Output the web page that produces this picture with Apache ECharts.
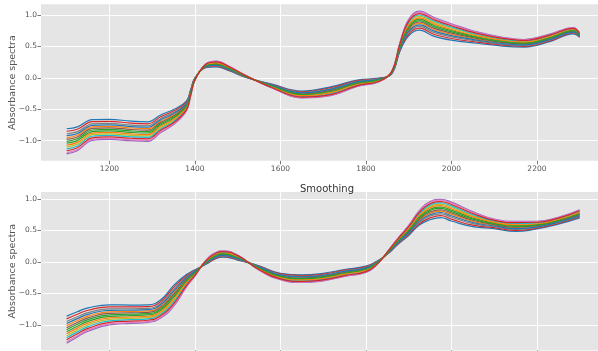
<!DOCTYPE html>
<html>
<head>
<meta charset="utf-8">
<script src="https://cdn.jsdelivr.net/npm/echarts@6/dist/echarts.min.js"></script>
<style>
  html, body { margin: 0; padding: 0; background: #ffffff; }
  #chart { width: 598px; height: 351px; }
</style>
</head>
<body>
<div id="chart"></div>
<script>
// Wavelength grids (nm)
const wavelengthsRaw = [1100, 1125, 1160, 1200, 1250, 1290, 1320, 1350, 1380, 1390, 1400, 1425, 1450, 1480, 1520, 1580, 1650, 1720, 1780, 1830, 1860, 1880, 1900, 1925, 1960, 2000, 2060, 2120, 2170, 2230, 2285, 2300];
const wavelengthsSmooth = [1100, 1125, 1150, 1200, 1250, 1290, 1320, 1350, 1380, 1400, 1425, 1450, 1465, 1500, 1550, 1600, 1650, 1700, 1750, 1800, 1825, 1850, 1875, 1900, 1925, 1950, 1975, 2000, 2050, 2100, 2150, 2200, 2250, 2300];

// Raw absorbance spectra, one array per sample
const raw01 = [-0.81, -0.78, -0.665, -0.66, -0.69, -0.70, -0.59, -0.505, -0.37, -0.19, 0.00, 0.16, 0.175, 0.115, 0.005, -0.10, -0.21, -0.14, -0.035, -0.005, 0.06, 0.43, 0.67, 0.76, 0.66, 0.60, 0.55, 0.505, 0.49, 0.575, 0.70, 0.645];
const raw02 = [-0.95, -0.913, -0.78, -0.772, -0.798, -0.808, -0.688, -0.589, -0.426, -0.225, -0.014, 0.181, 0.206, 0.14, 0.016, -0.121, -0.248, -0.189, -0.07, -0.026, 0.074, 0.479, 0.761, 0.865, 0.765, 0.691, 0.613, 0.554, 0.532, 0.617, 0.735, 0.67];
const raw03 = [-1.04, -0.999, -0.855, -0.844, -0.868, -0.878, -0.751, -0.643, -0.462, -0.248, -0.023, 0.195, 0.227, 0.155, 0.022, -0.135, -0.273, -0.221, -0.093, -0.04, 0.083, 0.511, 0.82, 0.933, 0.833, 0.75, 0.654, 0.586, 0.559, 0.644, 0.758, 0.685];
const raw04 = [-0.85, -0.818, -0.698, -0.692, -0.721, -0.731, -0.618, -0.529, -0.386, -0.20, -0.004, 0.166, 0.184, 0.122, 0.008, -0.106, -0.221, -0.154, -0.045, -0.011, 0.064, 0.444, 0.696, 0.79, 0.69, 0.626, 0.568, 0.519, 0.502, 0.587, 0.71, 0.652];
const raw05 = [-1.21, -1.16, -0.995, -0.98, -1.00, -1.01, -0.87, -0.745, -0.53, -0.29, -0.04, 0.22, 0.265, 0.185, 0.035, -0.16, -0.32, -0.28, -0.135, -0.065, 0.10, 0.57, 0.93, 1.06, 0.96, 0.86, 0.73, 0.645, 0.61, 0.695, 0.80, 0.715];
const raw06 = [-0.98, -0.942, -0.805, -0.796, -0.822, -0.832, -0.709, -0.607, -0.438, -0.233, -0.017, 0.186, 0.213, 0.145, 0.018, -0.126, -0.257, -0.20, -0.078, -0.031, 0.077, 0.49, 0.781, 0.888, 0.788, 0.711, 0.627, 0.565, 0.541, 0.626, 0.743, 0.675];
const raw07 = [-1.19, -1.141, -0.979, -0.964, -0.985, -0.995, -0.856, -0.733, -0.522, -0.285, -0.038, 0.217, 0.261, 0.182, 0.034, -0.157, -0.315, -0.273, -0.13, -0.062, 0.098, 0.563, 0.917, 1.045, 0.945, 0.847, 0.721, 0.638, 0.604, 0.689, 0.795, 0.712];
const raw08 = [-0.89, -0.856, -0.731, -0.724, -0.752, -0.762, -0.646, -0.553, -0.402, -0.21, -0.008, 0.172, 0.193, 0.129, 0.011, -0.112, -0.232, -0.168, -0.055, -0.017, 0.068, 0.458, 0.722, 0.82, 0.72, 0.652, 0.586, 0.533, 0.514, 0.599, 0.72, 0.659];
const raw09 = [-1.10, -1.056, -0.904, -0.892, -0.915, -0.925, -0.793, -0.679, -0.486, -0.263, -0.029, 0.204, 0.24, 0.166, 0.027, -0.144, -0.29, -0.242, -0.108, -0.049, 0.089, 0.532, 0.859, 0.978, 0.878, 0.789, 0.681, 0.607, 0.577, 0.662, 0.773, 0.696];
const raw10 = [-1.13, -1.084, -0.929, -0.916, -0.938, -0.948, -0.814, -0.697, -0.498, -0.27, -0.032, 0.208, 0.247, 0.171, 0.029, -0.148, -0.298, -0.252, -0.115, -0.053, 0.092, 0.542, 0.878, 1.00, 0.90, 0.808, 0.694, 0.617, 0.586, 0.671, 0.78, 0.701];
const raw11 = [-0.92, -0.885, -0.756, -0.748, -0.775, -0.785, -0.667, -0.571, -0.414, -0.218, -0.011, 0.177, 0.20, 0.134, 0.013, -0.117, -0.24, -0.179, -0.063, -0.022, 0.071, 0.469, 0.742, 0.843, 0.743, 0.672, 0.60, 0.544, 0.523, 0.608, 0.728, 0.664];
const raw12 = [-1.07, -1.027, -0.88, -0.868, -0.892, -0.902, -0.772, -0.661, -0.474, -0.255, -0.026, 0.199, 0.234, 0.161, 0.025, -0.139, -0.282, -0.231, -0.10, -0.044, 0.086, 0.521, 0.839, 0.955, 0.855, 0.769, 0.667, 0.596, 0.568, 0.653, 0.765, 0.691];
const raw13 = [-1.01, -0.97, -0.83, -0.82, -0.845, -0.855, -0.73, -0.625, -0.45, -0.24, -0.02, 0.19, 0.22, 0.15, 0.02, -0.13, -0.265, -0.21, -0.085, -0.035, 0.08, 0.50, 0.80, 0.91, 0.81, 0.73, 0.64, 0.575, 0.55, 0.635, 0.75, 0.68];
const raw14 = [-1.16, -1.113, -0.954, -0.94, -0.961, -0.971, -0.835, -0.715, -0.51, -0.278, -0.035, 0.213, 0.254, 0.176, 0.031, -0.153, -0.306, -0.263, -0.123, -0.058, 0.095, 0.553, 0.898, 1.023, 0.923, 0.828, 0.708, 0.628, 0.595, 0.68, 0.788, 0.706];

// Smoothed spectra, same samples
const sm01 = [-0.86, -0.79, -0.73, -0.68, -0.685, -0.68, -0.60, -0.375, -0.20, -0.125, -0.04, 0.055, 0.077, 0.03, -0.06, -0.18, -0.205, -0.18, -0.12, -0.065, 0.01, 0.12, 0.28, 0.42, 0.585, 0.67, 0.705, 0.65, 0.56, 0.53, 0.485, 0.525, 0.60, 0.70];
const sm02 = [-1.011, -0.93, -0.86, -0.792, -0.787, -0.778, -0.702, -0.491, -0.27, -0.16, -0.019, 0.09, 0.112, 0.058, -0.085, -0.215, -0.247, -0.222, -0.159, -0.10, -0.011, 0.134, 0.315, 0.476, 0.666, 0.772, 0.807, 0.755, 0.644, 0.583, 0.541, 0.567, 0.639, 0.746];
const sm03 = [-1.107, -1.02, -0.943, -0.864, -0.852, -0.841, -0.767, -0.565, -0.315, -0.183, -0.005, 0.113, 0.135, 0.076, -0.10, -0.238, -0.274, -0.249, -0.183, -0.123, -0.025, 0.143, 0.338, 0.512, 0.717, 0.837, 0.872, 0.823, 0.698, 0.616, 0.577, 0.594, 0.663, 0.775];
const sm04 = [-0.903, -0.83, -0.767, -0.712, -0.714, -0.708, -0.629, -0.408, -0.22, -0.135, -0.034, 0.065, 0.087, 0.038, -0.067, -0.19, -0.217, -0.192, -0.131, -0.075, 0.004, 0.124, 0.29, 0.436, 0.608, 0.699, 0.734, 0.68, 0.584, 0.545, 0.501, 0.537, 0.611, 0.713];
const sm05 = [-1.29, -1.19, -1.10, -1.00, -0.975, -0.96, -0.89, -0.705, -0.40, -0.225, 0.02, 0.155, 0.177, 0.11, -0.13, -0.28, -0.325, -0.30, -0.23, -0.165, -0.05, 0.16, 0.38, 0.58, 0.815, 0.96, 0.995, 0.95, 0.80, 0.68, 0.645, 0.645, 0.71, 0.83];
const sm06 = [-1.043, -0.96, -0.887, -0.816, -0.808, -0.799, -0.723, -0.515, -0.285, -0.168, -0.015, 0.098, 0.12, 0.064, -0.09, -0.223, -0.256, -0.231, -0.167, -0.108, -0.016, 0.137, 0.323, 0.488, 0.683, 0.793, 0.828, 0.778, 0.662, 0.594, 0.553, 0.576, 0.647, 0.755];
const sm07 = [-1.269, -1.17, -1.082, -0.984, -0.961, -0.946, -0.876, -0.689, -0.39, -0.22, 0.017, 0.15, 0.172, 0.106, -0.127, -0.275, -0.319, -0.294, -0.225, -0.16, -0.047, 0.158, 0.375, 0.572, 0.804, 0.946, 0.981, 0.935, 0.788, 0.673, 0.637, 0.639, 0.705, 0.824];
const sm08 = [-0.946, -0.87, -0.804, -0.744, -0.743, -0.736, -0.658, -0.441, -0.24, -0.145, -0.028, 0.075, 0.097, 0.046, -0.074, -0.20, -0.229, -0.204, -0.142, -0.085, -0.002, 0.128, 0.30, 0.452, 0.631, 0.728, 0.763, 0.71, 0.608, 0.56, 0.517, 0.549, 0.622, 0.726];
const sm09 = [-1.172, -1.08, -0.998, -0.912, -0.895, -0.883, -0.81, -0.614, -0.345, -0.198, 0.004, 0.128, 0.15, 0.088, -0.111, -0.253, -0.292, -0.267, -0.20, -0.138, -0.034, 0.149, 0.353, 0.536, 0.752, 0.88, 0.915, 0.868, 0.734, 0.639, 0.601, 0.612, 0.68, 0.794];
const sm10 = [-1.204, -1.11, -1.026, -0.936, -0.917, -0.904, -0.832, -0.639, -0.36, -0.205, 0.008, 0.135, 0.157, 0.094, -0.116, -0.26, -0.301, -0.276, -0.208, -0.145, -0.038, 0.152, 0.36, 0.548, 0.769, 0.902, 0.937, 0.89, 0.752, 0.65, 0.613, 0.621, 0.688, 0.804];
const sm11 = [-0.978, -0.90, -0.832, -0.768, -0.765, -0.757, -0.68, -0.466, -0.255, -0.153, -0.024, 0.083, 0.105, 0.052, -0.079, -0.208, -0.238, -0.213, -0.15, -0.093, -0.007, 0.131, 0.308, 0.464, 0.648, 0.75, 0.785, 0.733, 0.626, 0.571, 0.529, 0.558, 0.63, 0.736];
const sm12 = [-1.14, -1.05, -0.971, -0.888, -0.874, -0.862, -0.789, -0.59, -0.33, -0.19, -0.001, 0.12, 0.142, 0.082, -0.106, -0.245, -0.283, -0.258, -0.192, -0.13, -0.029, 0.146, 0.345, 0.524, 0.735, 0.859, 0.894, 0.845, 0.716, 0.628, 0.589, 0.603, 0.672, 0.785];
const sm13 = [-1.075, -0.99, -0.915, -0.84, -0.83, -0.82, -0.745, -0.54, -0.30, -0.175, -0.01, 0.105, 0.127, 0.07, -0.095, -0.23, -0.265, -0.24, -0.175, -0.115, -0.02, 0.14, 0.33, 0.50, 0.70, 0.815, 0.85, 0.80, 0.68, 0.605, 0.565, 0.585, 0.655, 0.765];
const sm14 = [-1.236, -1.14, -1.054, -0.96, -0.939, -0.925, -0.854, -0.664, -0.375, -0.213, 0.013, 0.143, 0.165, 0.10, -0.121, -0.268, -0.31, -0.285, -0.216, -0.153, -0.043, 0.155, 0.368, 0.56, 0.786, 0.924, 0.959, 0.913, 0.77, 0.661, 0.625, 0.63, 0.696, 0.814];

// Tick positions
const xTicks = [1200, 1400, 1600, 1800, 2000, 2200];
const yTicks = [-1.0, -0.5, 0.0, 0.5, 1.0];

const rawSeries = [raw01, raw02, raw03, raw04, raw05, raw06, raw07, raw08, raw09, raw10, raw11, raw12, raw13, raw14];
const smoothSeries = [sm01, sm02, sm03, sm04, sm05, sm06, sm07, sm08, sm09, sm10, sm11, sm12, sm13, sm14];

const palette = ['#1f77b4', '#ff7f0e', '#2ca02c', '#d62728', '#9467bd', '#8c564b', '#e377c2', '#7f7f7f', '#bcbd22', '#17becf'];
const FONT = 'DejaVu Sans';

function fmtY(v) {
  return v.toFixed(1).replace('-', '\u2212');
}

function xAxisFor(gridIndex) {
  return {
    type: 'value', gridIndex: gridIndex, min: 1040, max: 2360,
    axisLine: { show: false, onZero: false },
    axisTick: { show: true, customValues: xTicks, length: 3.5, lineStyle: { color: '#555555', width: 0.8 } },
    axisLabel: { customValues: xTicks, color: '#555555', fontSize: 7.5, fontFamily: FONT, margin: 4, formatter: (v) => String(v) },
    splitLine: { show: true, lineStyle: { color: '#ffffff', width: 0.9 } }
  };
}

function yAxisFor(gridIndex, min, max) {
  return {
    type: 'value', gridIndex: gridIndex, min: min, max: max,
    name: 'Absorbance spectra', nameLocation: 'middle', nameGap: 23, nameMoveOverlap: false,
    nameTextStyle: { color: '#555555', fontSize: 9.5, fontFamily: FONT },
    axisLine: { show: false, onZero: false },
    axisTick: { show: true, customValues: yTicks, length: 3.5, lineStyle: { color: '#555555', width: 0.8 } },
    axisLabel: { customValues: yTicks, color: '#555555', fontSize: 7.5, fontFamily: FONT, margin: 4, formatter: fmtY },
    splitLine: { show: true, lineStyle: { color: '#ffffff', width: 0.9 } }
  };
}

function lineSeries(values, wl, i, axisIndex, smoothness) {
  return {
    type: 'line',
    xAxisIndex: axisIndex, yAxisIndex: axisIndex,
    data: wl.map((w, j) => [w, values[j]]),
    smooth: smoothness,
    showSymbol: false,
    silent: true,
    lineStyle: { width: 1.2, color: palette[i % palette.length] },
    z: 3
  };
}

const series = [];
rawSeries.forEach((v, i) => series.push(lineSeries(v, wavelengthsRaw, i, 0, 0.4)));
smoothSeries.forEach((v, i) => series.push(lineSeries(v, wavelengthsSmooth, i, 1, 0.5)));

const chart = echarts.init(document.getElementById('chart'), null, { renderer: 'canvas' });
chart.setOption({
  animation: false,
  backgroundColor: '#ffffff',
  title: [{
    text: 'Smoothing', left: 295, top: 179,
    textStyle: { color: '#333333', fontSize: 10, fontWeight: 'normal', fontFamily: FONT }
  }],
  grid: [
    { left: 41, top: 4.3, width: 564.3, height: 156.5, show: true, backgroundColor: '#E5E5E5', borderWidth: 0, containLabel: false, outerBoundsMode: 'none' },
    { left: 41, top: 192.1, width: 564.3, height: 158.3, show: true, backgroundColor: '#E5E5E5', borderWidth: 0, containLabel: false, outerBoundsMode: 'none' }
  ],
  xAxis: [xAxisFor(0), xAxisFor(1)],
  yAxis: [yAxisFor(0, -1.32, 1.17), yAxisFor(1, -1.404, 1.109)],
  series: series
});
</script>
</body>
</html>
